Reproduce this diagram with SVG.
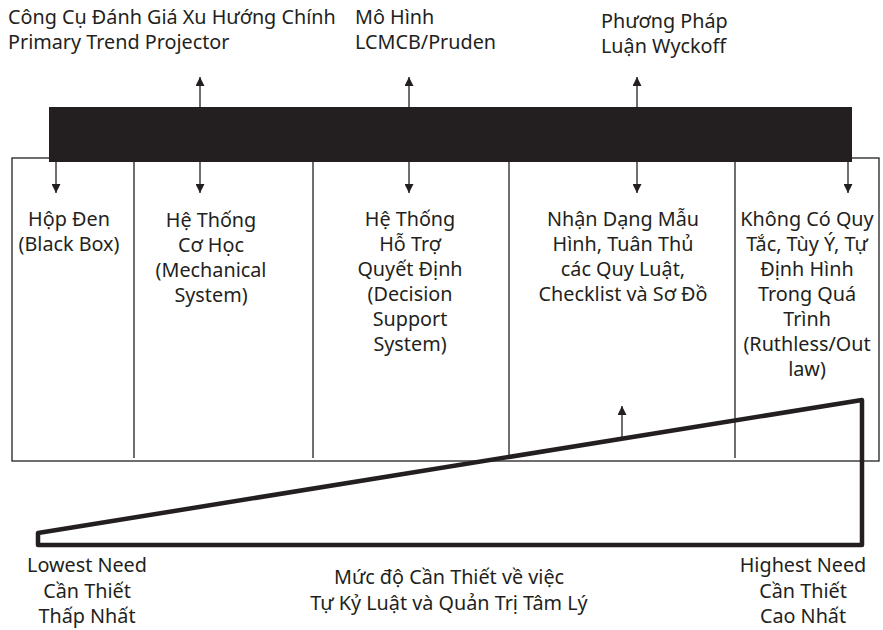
<svg xmlns="http://www.w3.org/2000/svg" width="883" height="630" viewBox="0 0 883 630">
<style>
text{font-family:"Noto Sans","Liberation Sans",sans-serif;font-size:19.8px;fill:#231f20}
.c{text-anchor:middle}
.ln{stroke:#231f20;stroke-width:1.3;fill:none}
</style>
<defs>
<marker id="ah" viewBox="0 0 10 10" refX="10" refY="5" markerWidth="9" markerHeight="9" markerUnits="userSpaceOnUse" orient="auto">
<path d="M0,0 L10,5 L0,10 z" fill="#231f20"/>
</marker>
</defs>
<rect width="883" height="630" fill="#fff"/>
<g id="frame">
<rect x="12" y="158" width="867" height="303" class="ln"/>
<line x1="134" y1="158" x2="134" y2="458" class="ln"/>
<line x1="313" y1="158" x2="313" y2="458" class="ln"/>
<line x1="509" y1="158" x2="509" y2="458" class="ln"/>
<line x1="735" y1="158" x2="735" y2="458" class="ln"/>
</g>
<g id="bar"><rect x="49" y="107" width="803" height="55" fill="#231f20"/></g>
<g id="connectors">
<line x1="200" y1="107" x2="200" y2="77" class="ln" marker-end="url(#ah)"/>
<line x1="409" y1="107" x2="409" y2="77" class="ln" marker-end="url(#ah)"/>
<line x1="637" y1="107" x2="637" y2="77" class="ln" marker-end="url(#ah)"/>
<line x1="56" y1="162" x2="56" y2="193" class="ln" marker-end="url(#ah)"/>
<line x1="200" y1="162" x2="200" y2="193" class="ln" marker-end="url(#ah)"/>
<line x1="409" y1="162" x2="409" y2="193" class="ln" marker-end="url(#ah)"/>
<line x1="637" y1="162" x2="637" y2="193" class="ln" marker-end="url(#ah)"/>
<line x1="848" y1="162" x2="848" y2="193" class="ln" marker-end="url(#ah)"/>
<line x1="622" y1="440" x2="622" y2="406" class="ln" marker-end="url(#ah)"/>
</g>
<g id="wedge"><polygon points="38,533 862,400 862,545 38,545" fill="none" stroke="#231f20" stroke-width="4.5" stroke-linejoin="round"/></g>
<g id="top-labels">
<text x="8" y="24">Công Cụ Đánh Giá Xu Hướng Chính</text>
<text x="8" y="49">Primary Trend Projector</text>
<text x="355" y="24">Mô Hình</text>
<text x="355" y="49">LCMCB/Pruden</text>
<text x="601" y="28">Phương Pháp</text>
<text x="601" y="53">Luận Wyckoff</text>
</g>
<g id="col1">
<text class="c" x="69" y="226">Hộp Đen</text>
<text class="c" x="69" y="251">(Black Box)</text>
</g>
<g id="col2">
<text class="c" x="211" y="227">Hệ Thống</text>
<text class="c" x="211" y="252">Cơ Học</text>
<text class="c" x="211" y="277">(Mechanical</text>
<text class="c" x="211" y="302">System)</text>
</g>
<g id="col3">
<text class="c" x="410" y="226">Hệ Thống</text>
<text class="c" x="410" y="251">Hỗ Trợ</text>
<text class="c" x="410" y="276">Quyết Định</text>
<text class="c" x="410" y="301">(Decision</text>
<text class="c" x="410" y="326">Support</text>
<text class="c" x="410" y="351">System)</text>
</g>
<g id="col4">
<text class="c" x="623" y="226">Nhận Dạng Mẫu</text>
<text class="c" x="623" y="251">Hình, Tuân Thủ</text>
<text class="c" x="623" y="276">các Quy Luật,</text>
<text class="c" x="623" y="301">Checklist và Sơ Đồ</text>
</g>
<g id="col5">
<text class="c" x="807" y="226">Không Có Quy</text>
<text class="c" x="807" y="251">Tắc, Tùy Ý, Tự</text>
<text class="c" x="807" y="276">Định Hình</text>
<text class="c" x="807" y="301">Trong Quá</text>
<text class="c" x="807" y="326">Trình</text>
<text class="c" x="807" y="351">(Ruthless/Out</text>
<text class="c" x="807" y="376">law)</text>
</g>
<g id="bottom-labels">
<text class="c" x="87" y="572">Lowest Need</text>
<text class="c" x="87" y="597.5">Cần Thiết</text>
<text class="c" x="87" y="623">Thấp Nhất</text>
<text class="c" x="449" y="584">Mức độ Cần Thiết về việc</text>
<text class="c" x="449" y="610">Tự Kỷ Luật và Quản Trị Tâm Lý</text>
<text class="c" x="803" y="572">Highest Need</text>
<text class="c" x="803" y="597.5">Cần Thiết</text>
<text class="c" x="803" y="623">Cao Nhất</text>
</g>
</svg>
